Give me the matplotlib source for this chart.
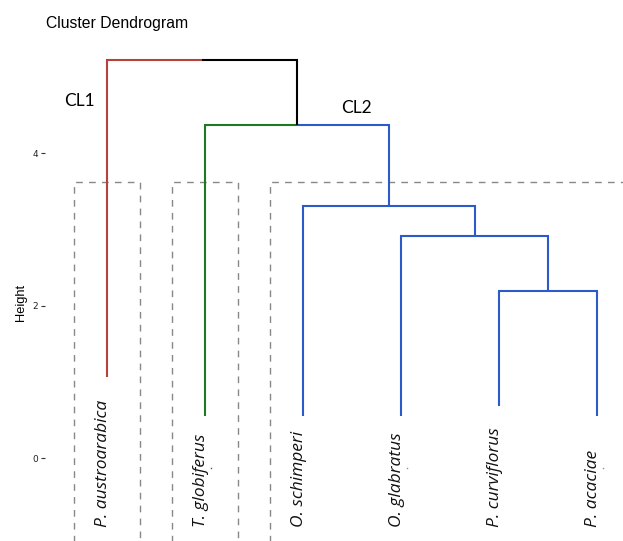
import matplotlib.pyplot as plt
import numpy as np

# leaves in plotting order, left to right
leaves = ["P. austroarabica", "T. globiferus", "O. schimperi",
          "O. glabratus", "P. curviflorus", "P. acaciae"]
# height where each leaf branch ends
leaf_ends = [1.07, 0.56, 0.56, 0.56, 0.68, 0.56]
# merges: (left child, right child, height); ids >= 6 are earlier merges
merges = [(4, 5, 2.20),
          (3, 6, 2.91),
          (2, 7, 3.31),
          (1, 8, 4.37),
          (0, 9, 5.23)]
# k = 3 cluster membership per leaf
clusters = [0, 1, 2, 2, 2, 2]
cluster_colors = ["#B8423B", "#1E7A1E", "#2A5BC9"]
cluster_names = ["CL1", "CL2"]
# leaves that carry a small stray point beside their label
dotted = [1, 3, 5]
rect_top = 3.63
rect_bottom = -1.4
rect_pad = 0.34

n = len(leaves)
xpos = {i: float(i + 1) for i in range(n)}
ypos = {i: leaf_ends[i] for i in range(n)}
members = {i: {clusters[i]} for i in range(n)}
for k, (a, b, h) in enumerate(merges):
    node = n + k
    xpos[node] = (xpos[a] + xpos[b]) / 2
    ypos[node] = h
    members[node] = members[a] | members[b]


def branch_color(node):
    m = members[node]
    return cluster_colors[next(iter(m))] if len(m) == 1 else "black"


fig = plt.figure(figsize=(6.23, 5.41), dpi=100)
ax = fig.add_axes([45 / 623, 0, 578 / 623, 501 / 541])

# elbows: each child goes up to its parent's height, then across to the parent
for k, (a, b, h) in enumerate(merges):
    node = n + k
    for child in (a, b):
        c = branch_color(child)
        ax.plot([xpos[child], xpos[child], xpos[node]],
                [ypos[child], h, h], color=c, lw=1.5,
                solid_capstyle="butt", solid_joinstyle="miter", zorder=3)

# dashed boxes around the clusters
for g in sorted(set(clusters)):
    idx = [i for i in range(n) if clusters[i] == g]
    x0 = xpos[idx[0]] - rect_pad
    x1 = xpos[idx[-1]] + rect_pad
    ax.plot([x0, x0, x1, x1], [rect_bottom, rect_top, rect_top, rect_bottom],
            color="#888888", lw=1.0, ls=(0, (4.8, 4.5)), zorder=2)

# leaf labels
for i, name in enumerate(leaves):
    ax.text(xpos[i] + 0.045, -0.905, name, rotation=90, ha="right", va="bottom",
            fontsize=12.5, style="italic", family=["Open Sans", "DejaVu Sans"],
            color="#111111")
    if i in dotted:
        col = "#1E7A1E" if clusters[i] == 1 else "#5B9BE0"
        ax.plot(xpos[i] + 0.065, -0.13, marker="s", ms=1.0, color=col, mew=0)

ax.text(0.714, 4.68, cluster_names[0], ha="center", va="center", fontsize=12.5,
        family=["Lato", "DejaVu Sans"])
ax.text(3.54, 4.59, cluster_names[1], ha="center", va="center", fontsize=12.5,
        family=["Lato", "DejaVu Sans"])

ax.set_xlim(0.367, 6.265)
ax.set_ylim(-1.085, 5.486)
ax.set_yticks([0, 2, 4])
ax.set_xticks([])
ax.tick_params(axis="y", length=3, width=0.8, color="#333333", pad=2,
               labelsize=6.5, labelcolor="#222222")
for s in ax.spines.values():
    s.set_visible(False)

fig.text(46 / 623, 1 - 28 / 541, "Cluster Dendrogram", fontsize=11.3,
         family="Liberation Sans", va="baseline", ha="left")
fig.text(21 / 623, 1 - 302 / 541, "Height", rotation=90, ha="center",
         va="center", fontsize=9.3, family="Liberation Sans")

fig.savefig("out.png", dpi=100)
